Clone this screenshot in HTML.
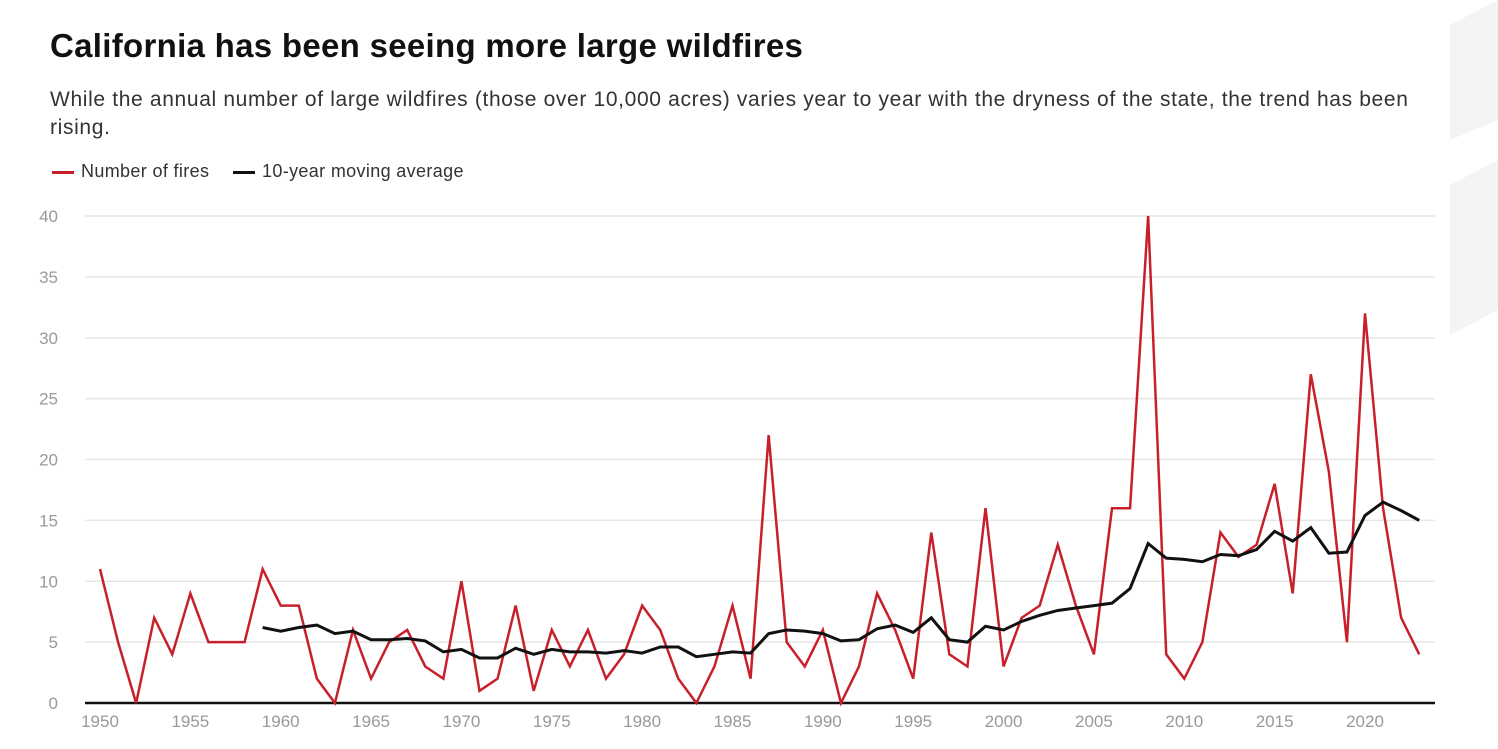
<!DOCTYPE html>
<html><head><meta charset="utf-8"><style>
body{margin:0;background:#fff;font-family:"Liberation Sans",Arial,sans-serif;}
#wrap{position:relative;width:1498px;height:749px;overflow:hidden;}
h1{position:absolute;left:50px;top:27px;margin:0;font-size:33px;font-weight:bold;color:#111;letter-spacing:0.3px}
p{position:absolute;left:50px;top:86px;margin:0;font-size:21px;line-height:28px;color:#333;width:1390px;letter-spacing:0.65px}
.leg{position:absolute;top:161px;font-size:18px;color:#333;letter-spacing:0.35px}
.leg span{display:inline-block;width:22px;height:3px;vertical-align:middle;margin-right:7px}
</style></head><body>
<div id="wrap">
<svg width="1498" height="749" style="position:absolute;left:0;top:0">
<polygon points="1450,25 1498,0 1498,120 1450,140" fill="#f4f4f4"/>
<polygon points="1450,185 1498,160 1498,310 1450,335" fill="#f4f4f4"/>
</svg>
<h1>California has been seeing more large wildfires</h1>
<p>While the annual number of large wildfires (those over 10,000 acres) varies year to year with the dryness of the state, the trend has been rising.</p>
<div class="leg" style="left:52px"><span style="background:#c8202a"></span>Number of fires</div>
<div class="leg" style="left:233px"><span style="background:#111"></span>10-year moving average</div>
<svg id="chart" width="1498" height="749" style="position:absolute;left:0;top:0"></svg>
</div>
<script>
const years=[];for(let y=1950;y<=2023;y++)years.push(y);
const fires=[11,5,0,7,4,9,5,5,5,11,8,8,2,0,6,2,5,6,3,2,10,1,2,8,1,6,3,6,2,4,8,6,2,0,3,8,2,22,5,3,6,0,3,9,6,2,14,4,3,16,3,7,8,13,8,4,16,16,40,4,2,5,14,12,13,18,9,27,19,5,32,16,7,4];
const avgStart=1959;
const avg=[6.2,5.9,6.2,6.4,5.7,5.9,5.2,5.2,5.3,5.1,4.2,4.4,3.7,3.7,4.5,4.0,4.4,4.2,4.2,4.1,4.3,4.1,4.6,4.6,3.8,4.0,4.2,4.1,5.7,6.0,5.9,5.7,5.1,5.2,6.1,6.4,5.8,7.0,5.2,5.0,6.3,6.0,6.7,7.2,7.6,7.8,8.0,8.2,9.4,13.1,11.9,11.8,11.6,12.2,12.1,12.6,14.1,13.3,14.4,12.3,12.4,15.4,16.5,15.8,15.0];
const yTicks=[0,5,10,15,20,25,30,35,40];
const xTicks=[1950,1955,1960,1965,1970,1975,1980,1985,1990,1995,2000,2005,2010,2015,2020];
const svg=document.getElementById('chart');const NS='http://www.w3.org/2000/svg';
const X=y=>100+(y-1950)*(1365-100)/70;
const Y=v=>703-v*(703-216)/40;
function mk(t,a){const e=document.createElementNS(NS,t);for(const k in a)e.setAttribute(k,a[k]);svg.appendChild(e);return e;}
yTicks.forEach(v=>{
 const g=mk('line',{x1:85,x2:1435,y1:Y(v),y2:Y(v),stroke:'#e6e6e6','stroke-width':1.5});
 
 
 const t=mk('text',{x:58,y:Y(v)+6,'text-anchor':'end','font-size':17,fill:'#999','font-family':'Liberation Sans, sans-serif'});t.textContent=v;
 
 
});
xTicks.forEach(v=>{
 const t=mk('text',{x:X(v),y:727,'text-anchor':'middle','font-size':17,fill:'#999','font-family':'Liberation Sans, sans-serif'});t.textContent=v;
 
 
});
const ax=mk('line',{x1:85,x2:1435,y1:703,y2:703,stroke:'#111','stroke-width':2.5});


const fl=mk('polyline',{points:fires.map((v,i)=>X(years[i])+','+Y(v)).join(' '),fill:'none',stroke:'#c8202a','stroke-width':2.5,'stroke-linejoin':'miter'});


const al=mk('polyline',{points:avg.map((v,i)=>X(avgStart+i)+','+Y(v)).join(' '),fill:'none',stroke:'#111','stroke-width':3});


</script>
</body></html>
